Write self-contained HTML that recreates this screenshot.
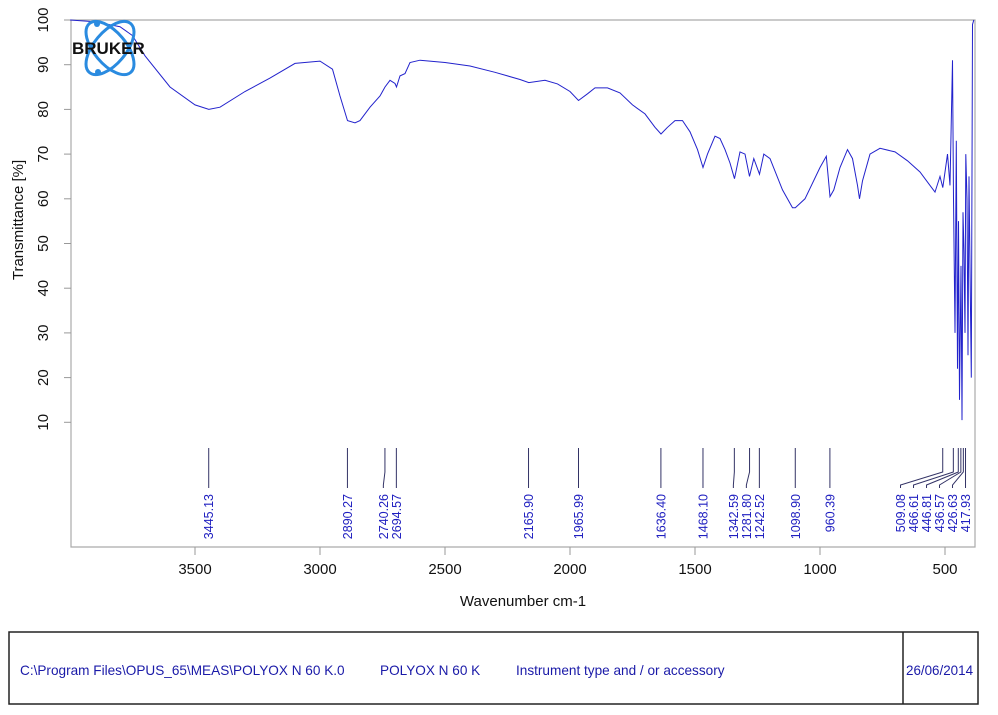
<!DOCTYPE html>
<html><head><meta charset="utf-8"><style>
body{margin:0;background:#fff;width:998px;height:710px;overflow:hidden;font-family:"Liberation Sans",sans-serif}
</style></head><body>
<svg id="c" width="998" height="710" xmlns="http://www.w3.org/2000/svg">
<rect x="9" y="632" width="969" height="72" fill="none" stroke="#222" stroke-width="1.5"/>
<line x1="903" y1="632" x2="903" y2="704" stroke="#222" stroke-width="1.5"/>
<text x="20" y="675" font-size="13.6" fill="#1a1aa8">C:\Program Files\OPUS_65\MEAS\POLYOX N 60 K.0</text>
<text x="380" y="675" font-size="13.6" fill="#1a1aa8">POLYOX N 60 K</text>
<text x="516" y="675" font-size="13.6" fill="#1a1aa8">Instrument type and / or accessory</text>
<text x="906" y="675" font-size="13.4" fill="#1a1aa8">26/06/2014</text>
<g id="plot"></g>
<g>
<ellipse cx="110" cy="48" rx="16" ry="32" fill="none" stroke="#2a8be0" stroke-width="3" transform="rotate(40 110 48)"/>
<ellipse cx="110" cy="48" rx="16" ry="32" fill="none" stroke="#2a8be0" stroke-width="3" transform="rotate(-40 110 48)"/>
<circle cx="97" cy="24" r="3" fill="#2a8be0"/><circle cx="98" cy="72" r="3" fill="#2a8be0"/>
<text x="72" y="54" font-size="17" font-weight="bold" fill="#111">BRUKER</text>
</g>
</svg>
<script>
const xTicks=[3500,3000,2500,2000,1500,1000,500];
const yTicks=[100,90,80,70,60,50,40,30,20,10];
const wavenumbers=[4000,3900,3800,3750,3700,3600,3500,3445,3400,3300,3200,3100,3000,2950,2920,2890,2860,2840,2800,2760,2740,2720,2700,2694,2680,2660,2640,2600,2500,2400,2300,2200,2165,2100,2050,2000,1966,1930,1900,1850,1800,1750,1700,1660,1636,1610,1580,1550,1520,1490,1468,1450,1420,1400,1380,1360,1342,1320,1300,1282,1265,1242,1225,1200,1150,1110,1099,1060,1000,975,960,945,920,890,870,850,842,830,800,760,700,650,600,560,540,520,509,500,490,480,470,466,460,455,450,446,442,436,432,428,424,420,417,412,408,404,400,395,390,385];
const transmittance=[100,99.6,98.5,96.5,92,85,81,80,80.5,84,87,90.3,90.8,89,83,77.5,77,77.5,80.5,83,85,86.5,85.8,85,87.5,88,90.5,91,90.5,89.7,88.3,86.7,86,86.5,85.7,84,82,83.5,84.8,84.8,83.7,81,79,76,74.5,76,77.5,77.5,75,71,67,70,74,73.5,71,68,64.5,70.5,70,65,69,65.5,70,69,62,58,58,60,67,69.5,60.5,62,67,71,69,63,60,64,70,71.3,70.5,68.5,66,63,61.5,65,62.5,66,70,63,91,60,30,73,22,55,15,45,10.5,57,48,30,70,60,25,65,45,20,99,100];
const peaks=[3445.13,2890.27,2740.26,2694.57,2165.90,1965.99,1636.40,1468.10,1342.59,1281.80,1242.52,1098.90,960.39,509.08,466.61,446.81,436.57,426.63,417.93];
const peakLabels=["3445.13","2890.27","2740.26","2694.57","2165.90","1965.99","1636.40","1468.10","1342.59","1281.80","1242.52","1098.90","960.39","509.08","466.61","446.81","436.57","426.63","417.93"];
const L=71,R=975,T=20,B=547;
const xs=w=>195+(3500-w)*0.25;
const ys=t=>20+(100-t)*4.47;
const NS="http://www.w3.org/2000/svg";
const g=document.getElementById('plot');
function mk(tag,at){const e=document.createElementNS(NS,tag);for(const k in at)e.setAttribute(k,at[k]);g.appendChild(e);return e;}
let e=mk('polyline',{points:`${L},${T} ${L},${B} ${R},${B} ${R},${T} ${L},${T}`,fill:'none',stroke:'#aaa','stroke-width':1.2});


xTicks.forEach(v=>{const x=xs(v);
 let t=mk('line',{x1:x,y1:B,x2:x,y2:B+8,stroke:'#999'});
 
 
 let l=mk('text',{x:x,y:B+27,'font-size':15,'text-anchor':'middle',fill:'#111'});l.textContent=v;
 
 
});
yTicks.forEach(v=>{const y=ys(v);
 let t=mk('line',{x1:L-7,y1:y,x2:L,y2:y,stroke:'#999'});
 
 
 let l=mk('text',{x:44,y:y,'font-size':15,'text-anchor':'middle',fill:'#111',transform:`rotate(-90 44 ${y})`,'dominant-baseline':'middle'});l.textContent=v;
 
 
});
let xt=mk('text',{x:523,y:606,'font-size':15,'text-anchor':'middle',fill:'#111'});xt.textContent='Wavenumber cm-1';


let yt=mk('text',{x:23,y:220,'font-size':15,'text-anchor':'middle',fill:'#111',transform:'rotate(-90 23 220)'});yt.textContent='Transmittance [%]';


let sp=mk('polyline',{points:wavenumbers.map((w,i)=>xs(w).toFixed(1)+','+ys(transmittance[i]).toFixed(1)).join(' '),fill:'none',stroke:'#2222cc','stroke-width':1});


const lx=new Array(peaks.length);
for(let i=peaks.length-1;i>=0;i--){const x=xs(peaks[i]);lx[i]=(i==peaks.length-1)?x:Math.min(x,lx[i+1]-13);}
peaks.forEach((p,i)=>{const x=xs(p),X=lx[i];
 let ln=mk('polyline',{points:`${x},448 ${x},472 ${X},485 ${X},488`,fill:'none',stroke:'#333366','stroke-width':1});
 
 
 let t=mk('text',{x:X+4.5,y:494,'font-size':12.5,fill:'#2020c0','text-anchor':'end',transform:`rotate(-90 ${X+4.5} 494)`});t.textContent=peakLabels[i];
 
 
});
</script>
</body></html>
